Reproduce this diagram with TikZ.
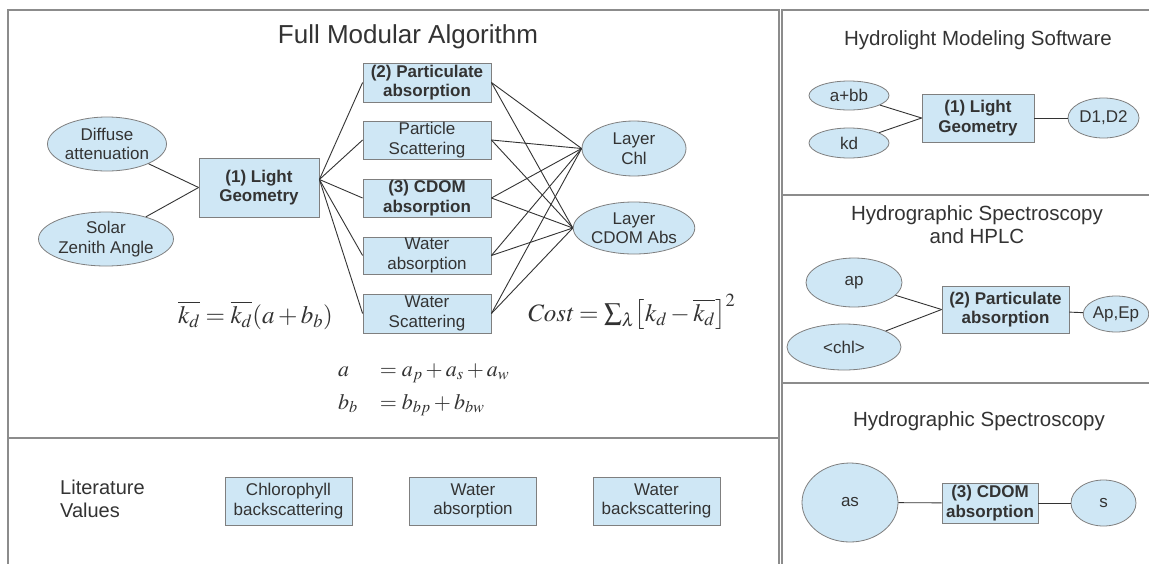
\documentclass[tikz,border=0pt]{standalone}
\usepackage{mathptmx}
\usepackage[no-math]{fontspec}
\setmainfont{Liberation Sans}
\usetikzlibrary{shapes.geometric}
\definecolor{boxfill}{HTML}{CFE7F5}
\definecolor{boxline}{HTML}{7F7F7F}
\definecolor{txt}{HTML}{333333}
\definecolor{framec}{HTML}{8C8C8C}
\newcommand{\ndfont}{\fontsize{17}{19.5}\selectfont}
\newcommand{\ttlfont}{\fontsize{20.5}{23}\selectfont}
\begin{document}
\begin{tikzpicture}[x=1pt,y=-1pt,
  conn/.style={draw=txt, line width=0.9pt},
  panel/.style={draw=framec, line width=2pt},
  ellnode/.style={ellipse, draw=boxline, fill=boxfill, text=txt, inner sep=0pt, align=center, font=\ndfont, line width=0.8pt},
  boxnode/.style={rectangle, draw=boxline, fill=boxfill, text=txt, inner sep=0pt, align=center, font=\ndfont, line width=0.8pt},
  boldbox/.style={boxnode, font=\ndfont\bfseries},
  ttl/.style={text=txt, inner sep=0pt, align=center, font=\ttlfont},
  eqn/.style={text=txt, inner sep=0pt}]
\useasboundingbox (0,0) rectangle (1149,563);
\fill[white] (0,0) rectangle (1149,563);
% panels
\draw[panel] (8,10) rectangle (779,600);
\draw[panel] (8,438) -- (779,438);
\draw[panel] (782,10) rectangle (1165,600);
\draw[panel] (782,195) -- (1165,195);
\draw[panel] (782,383) -- (1165,383);

% ---------- Full Modular Algorithm ----------
\node[text=txt, inner sep=0pt, anchor=base, font=\fontsize{26}{30}\selectfont] (t1) at (408,43) {Full Modular Algorithm};
\node[ellnode, minimum width=111pt, minimum height=54pt] (diff) at (107,144) {Diffuse\\attenuation};
\node[ellnode, minimum width=104pt, minimum height=54pt] (solar) at (106,239) {Solar\\Zenith Angle};
\node[boldbox, minimum width=120pt, minimum height=59pt] (lg) at (259,187.5) {(1) Light\\Geometry};
\node[boldbox, minimum width=128pt, minimum height=39pt] (b1) at (427,82.5) {(2) Particulate\\absorption};
\node[boxnode, minimum width=128pt, minimum height=38pt] (b2) at (427,140) {Particle\\Scattering};
\node[boldbox, minimum width=128pt, minimum height=38pt] (b3) at (427,198) {(3) CDOM\\absorption};
\node[boxnode, minimum width=128pt, minimum height=37pt] (b4) at (427,255.5) {Water\\absorption};
\node[boxnode, minimum width=128pt, minimum height=39pt] (b5) at (427,313.5) {Water\\Scattering};
\node[ellnode, minimum width=104pt, minimum height=55pt] (chl) at (634,148.5) {Layer\\Chl};
\node[ellnode, minimum width=104pt, minimum height=52pt] (cdom) at (634,228) {Layer\\CDOM Abs};

\draw[conn] (diff) -- (lg.west);
\draw[conn] (solar) -- (lg.west);
\foreach \b in {b1,b2,b3,b4,b5}{
  \draw[conn] ([yshift=8pt]lg.east) -- (\b.west);
  \draw[conn] (\b.east) -- (chl.west);
  \draw[conn] (\b.east) -- (cdom.west);
}

\node[eqn, anchor=base west, font=\fontsize{25}{30}\selectfont] (eq1) at (178,323) {$\overline{k_d}=\overline{k_d}(a+b_b)$};
\node[eqn, anchor=base west, font=\fontsize{25}{30}\selectfont] (eq2) at (527,321) {$\mathit{Cost}=\sum_{\lambda}\bigl[k_d-\overline{k_d}\bigr]^2$};
\node[eqn, anchor=west, font=\fontsize{22}{30}\selectfont] (eq3) at (338,386) {$\renewcommand{\arraystretch}{1.1}\begin{array}{@{}l@{\hspace{22pt}}l@{}} a & =a_p+a_s+a_w\\ b_b & =b_{bp}+b_{bw}\end{array}$};

% ---------- Literature values ----------
\node[text=txt, inner sep=0pt, anchor=west, align=left, font=\fontsize{20}{23}\selectfont] (lit) at (60,499) {Literature\\Values};
\node[boxnode, minimum width=127pt, minimum height=48pt] (l1) at (288.5,501) {Chlorophyll\\backscattering};
\node[boxnode, minimum width=127pt, minimum height=48pt] (l2) at (473,501) {Water\\absorption};
\node[boxnode, minimum width=127pt, minimum height=48pt] (l3) at (656.5,501) {Water\\backscattering};

% ---------- Hydrolight ----------
\node[ttl, anchor=base] (t2) at (978,45) {Hydrolight Modeling Software};
\node[ellnode, minimum width=80pt, minimum height=29pt] (apbb) at (849,95.5) {a+bb};
\node[ellnode, minimum width=80pt, minimum height=30pt] (kd) at (849,143) {kd};
\node[boldbox, minimum width=112pt, minimum height=48pt] (lg2) at (978,118) {(1) Light\\Geometry};
\node[ellnode, minimum width=71pt, minimum height=40pt] (d12) at (1103.5,118) {D1,D2};
\draw[conn] (apbb) -- (lg2.west);
\draw[conn] (kd) -- (lg2.west);
\draw[conn] (lg2) -- (d12);

% ---------- Hydrographic Spectroscopy and HPLC ----------
\node[ttl, anchor=base] (t3) at (977,220) {Hydrographic Spectroscopy};
\node[ttl, anchor=base] (t3b) at (977,243) {and HPLC};
\node[ellnode, minimum width=96pt, minimum height=49pt] (ap) at (854,282.5) {ap};
\node[ellnode, minimum width=114pt, minimum height=46pt] (chl2) at (844,347) {<chl>};
\node[boldbox, minimum width=127pt, minimum height=47pt] (pa2) at (1005.5,309.5) {(2) Particulate\\absorption};
\node[ellnode, minimum width=62pt, minimum height=36pt] (apep) at (1116,314) {Ap,Ep};
\draw[conn] (ap) -- (pa2.west);
\draw[conn] (chl2) -- (pa2.west);
\draw[conn] (pa2) -- (apep);

% ---------- Hydrographic Spectroscopy ----------
\node[ttl, anchor=base] (t4) at (979,426) {Hydrographic Spectroscopy};
\node[ellnode, minimum width=96pt, minimum height=79pt] (as) at (850,502.5) {as};
\node[boldbox, minimum width=96pt, minimum height=40pt] (cd2) at (990,503) {(3) CDOM\\absorption};
\node[ellnode, minimum width=65pt, minimum height=46pt] (s) at (1103.5,503) {s};
\draw[conn] (as) -- (cd2);
\draw[conn] (cd2) -- (s);
\end{tikzpicture}
\end{document}
